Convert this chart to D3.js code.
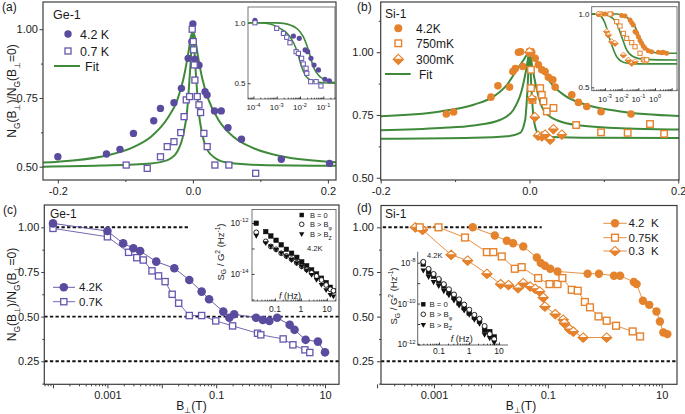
<!DOCTYPE html>
<html><head><meta charset="utf-8">
<script src="https://cdn.jsdelivr.net/npm/d3@7"></script>
<style>
html,body{margin:0;padding:0;background:#fff;}
svg text{font-family:'Liberation Sans',Arial,Helvetica,sans-serif;white-space:pre;}
</style></head><body>
<script>
// ================= DATA =================
// (a) Ge-1 : N_G(B)/N_G(0) vs B (T)
const a_4K2 = [[-0.2,0.536],[-0.128,0.546],[-0.108,0.563],[-0.088,0.621],[-0.058,0.667],[-0.048,0.712],[-0.028,0.733],[-0.017,0.785],[-0.007,0.894],[-0.0015,0.955],[0,1.019],[0.003,0.891],[0.009,0.869],[0.018,0.773],[0.021,0.761],[0.032,0.703],[0.042,0.703],[0.052,0.642],[0.072,0.60],[0.131,0.527],[0.2025,0.512]];
const a_0K7 = [[-0.0988,0.506],[-0.0676,0.494],[-0.048,0.536],[-0.038,0.573],[-0.028,0.591],[-0.018,0.624],[-0.013,0.682],[-0.0098,0.743],[-0.0049,0.755],[-0.001,1.0],[0.0005,0.955],[0.001,0.925],[0.002,0.87],[0.003,0.815],[0.0065,0.755],[0.009,0.725],[0.0114,0.697],[0.0163,0.621],[0.0212,0.573],[0.0326,0.506],[0.0533,0.506],[0.093,0.476]];
const a_fit4K2 = [[-0.222,0.515],[-0.2,0.518],[-0.137,0.536],[-0.0864,0.573],[-0.062,0.609],[-0.0375,0.676],[-0.023,0.743],[-0.0138,0.822],[-0.006,0.925],[-0.003,0.972],[0,0.99],[0.003,0.972],[0.006,0.925],[0.0138,0.822],[0.023,0.745],[0.0375,0.672],[0.062,0.605],[0.09,0.567],[0.137,0.535],[0.2,0.518],[0.212,0.516]];
const a_fit0K7 = [[-0.222,0.5],[-0.137,0.504],[-0.062,0.512],[-0.0375,0.524],[-0.023,0.555],[-0.0138,0.621],[-0.0084,0.706],[-0.0044,0.84],[-0.0015,0.95],[0,0.985],[0.0015,0.95],[0.0044,0.84],[0.0084,0.706],[0.0138,0.62],[0.021,0.563],[0.0375,0.525],[0.053,0.514],[0.1,0.506],[0.212,0.503]];
// inset (a): log B
const ia_4K2 = [[1.17e-4,1.02],[1.95e-3,0.912],[5.2e-3,0.89],[9.3e-3,0.871],[0.0166,0.775],[0.0214,0.761],[0.0295,0.706],[0.04,0.651],[0.0617,0.61],[0.117,0.533],[0.182,0.52]];
const ia_0K7 = [[1.17e-4,1.0],[1e-3,0.954],[1.95e-3,0.912],[2.7e-3,0.88],[3.7e-3,0.835],[6.8e-3,0.761],[8.5e-3,0.747],[0.0117,0.706],[0.0138,0.659],[0.0182,0.624],[0.0195,0.582],[0.0288,0.513],[0.049,0.513],[0.079,0.478]];
const ia_fit4K2 = [[5.9e-5,1.0],[1e-3,0.999],[1.95e-3,0.995],[7.2e-3,0.954],[0.0138,0.885],[0.0229,0.775],[0.037,0.637],[0.072,0.554],[0.195,0.513],[0.316,0.505]];
const ia_fit0K7 = [[5.9e-5,1.0],[2e-4,0.999],[5.2e-4,0.99],[1.38e-3,0.954],[3.7e-3,0.885],[7.2e-3,0.775],[0.0117,0.637],[0.0195,0.55],[0.0437,0.513],[0.316,0.5]];

// (b) Si-1
const b_4K2 = [[-0.1118,0.754],[-0.102,0.762],[-0.0518,0.821],[-0.0424,0.866],[-0.0268,0.861],[-0.0223,0.923],[-0.019,0.935],[-0.0148,1.0],[-0.012,1.002],[-0.009,0.943],[0.003,1.0],[0.0077,0.976],[0.012,0.95],[0.0166,0.93],[0.021,0.923],[0.0255,0.90],[0.0314,0.89],[0.0345,0.861],[0.0569,0.83],[0.0658,0.80],[0.077,0.784],[0.0962,0.763],[0.1365,0.754]];
const b_750 = [[0.001,1.0],[0.002,0.93],[0.002,0.857],[0.004,0.81],[0.0144,0.857],[0.0166,0.83],[0.0188,0.804],[0.0233,0.764],[0.0322,0.778],[0.0627,0.71],[0.0962,0.681],[0.132,0.679],[0.162,0.714],[0.181,0.675]];
const b_300 = [[0,1.0],[0.0032,0.815],[0.0072,0.742],[0.0115,0.668],[0.0166,0.665],[0.021,0.672],[0.0278,0.652],[0.0322,0.694],[0.0435,0.672]];
const b_fit4K2 = [[-0.2,0.745],[-0.12,0.764],[-0.075,0.791],[-0.048,0.824],[-0.0303,0.87],[-0.0169,0.93],[-0.008,0.969],[0,1.0],[0.008,0.969],[0.0169,0.93],[0.0303,0.872],[0.048,0.826],[0.075,0.792],[0.12,0.765],[0.201,0.746]];
const b_fit750 = [[-0.2,0.689],[-0.12,0.698],[-0.075,0.708],[-0.039,0.731],[-0.0215,0.771],[-0.0102,0.85],[-0.0044,0.93],[0,1.0],[0.0044,0.93],[0.0099,0.85],[0.0188,0.77],[0.0368,0.729],[0.068,0.708],[0.135,0.696],[0.201,0.692]];
const b_fit300 = [[-0.2,0.655],[-0.075,0.659],[-0.0303,0.665],[-0.0125,0.679],[-0.0058,0.731],[-0.0027,0.85],[0,1.0],[0.0027,0.85],[0.0058,0.731],[0.012,0.675],[0.0278,0.662],[0.09,0.659],[0.201,0.658]];
// inset (b)
const ib_4K2 = [[3.98e-4,1.0],[6.3e-4,1.0],[1e-3,1.0],[2.5e-3,1.0],[0.01,0.99],[0.0158,0.986],[0.0316,0.96],[0.04,0.94],[0.05,0.925],[0.063,0.88],[0.079,0.87],[0.1,0.845],[0.126,0.82],[0.158,0.8],[0.2,0.78],[0.25,0.766],[0.4,0.75],[0.63,0.743],[1.58,0.74],[2.5,0.736],[3.16,0.74],[5.0,0.732]];
const ib_750 = [[5e-4,1.0],[2e-3,1.0],[5e-3,0.948],[7.9e-3,0.918],[0.0126,0.868],[0.02,0.834],[0.04,0.805],[0.063,0.777],[0.126,0.732],[0.2,0.69],[0.25,0.68],[0.316,0.688]];
const ib_300 = [[3.98e-4,1.0],[1.26e-3,0.88],[1.58e-3,0.857],[2.5e-3,0.811],[4e-3,0.8],[0.0126,0.72],[0.025,0.686],[0.04,0.664],[0.063,0.675]];
const ib_fit4K2 = [[1.58e-4,1.0],[5e-3,1.0],[0.0126,0.99],[0.025,0.97],[0.063,0.914],[0.126,0.834],[0.25,0.777],[0.63,0.743],[2.0,0.734],[20.9,0.732]];
const ib_fit750 = [[1.58e-4,1.0],[7.9e-4,0.998],[1.58e-3,0.99],[5e-3,0.937],[0.01,0.845],[0.02,0.755],[0.05,0.709],[0.25,0.691],[20.9,0.686]];
const ib_fit300 = [[1.58e-4,1.0],[3.16e-4,0.998],[5e-4,0.99],[1e-3,0.937],[2e-3,0.823],[5e-3,0.709],[0.0158,0.668],[0.1,0.66],[20.9,0.66]];

// (c) Ge-1 log B
const c_4K2 = [[1e-4,1.022],[0.001,0.979],[0.00195,0.91],[0.0030,0.883],[0.0040,0.867],[0.0079,0.808],[0.017,0.771],[0.032,0.705],[0.054,0.64],[0.074,0.597],[0.135,0.528],[0.174,0.494],[0.214,0.513],[0.54,0.494],[0.72,0.481],[0.95,0.476],[1.32,0.494],[2.24,0.454],[2.75,0.426],[4.4,0.37],[7.4,0.36],[10,0.30]];
const c_0K7 = [[1e-4,0.994],[0.001,0.947],[0.00245,0.86],[0.00347,0.83],[0.00457,0.817],[0.0066,0.756],[0.0087,0.728],[0.0115,0.696],[0.0155,0.625],[0.0204,0.575],[0.032,0.506],[0.054,0.506],[0.098,0.476],[0.2,0.448],[0.575,0.407],[0.66,0.398],[1.7,0.375],[2.57,0.342],[4.27,0.314],[5.25,0.299]];
const c_refs = [{v:1.0,from:8.9e-5,to:0.031},{v:0.5},{v:0.25}];
// inset (c): S_G/G^2 vs f at 4.2K
const ic_f = [0.019,0.044,0.069,0.11,0.174,0.275,0.436,0.69,1.07,1.66,2.57,3.98,6.17,9.33,13.5,17.8];
const ic_B0 = [9.8e-13,4.6e-13,3.1e-13,2.1e-13,1.4e-13,9.3e-14,6.5e-14,4.5e-14,3.0e-14,2.1e-14,1.45e-14,1.0e-14,6.8e-15,4.6e-15,3.0e-15,2.2e-15];
const ic_Bphi = [4.3e-13,1.9e-13,1.2e-13,9.3e-14,6.5e-14,5.1e-14,3.8e-14,2.75e-14,2.0e-14,1.5e-14,1.1e-14,8.3e-15,5.8e-15,3.7e-15,2.5e-15,2.2e-15];
const ic_BZ = [3.1e-13,1.6e-13,1.2e-13,8.7e-14,6.5e-14,4.8e-14,3.5e-14,2.6e-14,1.95e-14,1.35e-14,9.1e-15,5.8e-15,3.7e-15,2.3e-15,1.5e-15,1.3e-15];

// (d) Si-1 log B
const d_4K2 = [[0.0048,1.0],[0.0117,0.954],[0.019,0.925],[0.0245,0.911],[0.037,0.893],[0.064,0.831],[0.075,0.80],[0.089,0.785],[0.11,0.768],[0.148,0.753],[0.50,0.74],[0.79,0.74],[1.45,0.729],[1.86,0.729],[3.24,0.694],[3.63,0.682],[4.68,0.589],[6.03,0.566],[8.1,0.529],[9.3,0.473],[10.7,0.411],[12.6,0.402]];
const d_0K75 = [[0.00056,1.0],[0.0012,1.0],[0.0035,0.943],[0.0085,0.861],[0.011,0.861],[0.0155,0.837],[0.0263,0.768],[0.0347,0.777],[0.0676,0.716],[0.107,0.682],[0.148,0.682],[0.18,0.716],[0.263,0.65],[0.335,0.645],[0.447,0.582],[0.55,0.552],[0.776,0.501],[1.08,0.477],[1.58,0.449],[3.09,0.417],[4.17,0.389]];
const d_0K3 = [[0.00047,1.0],[0.00063,0.986],[0.002,0.846],[0.0039,0.814],[0.0085,0.74],[0.0148,0.682],[0.0204,0.677],[0.030,0.66],[0.037,0.688],[0.049,0.669],[0.060,0.656],[0.072,0.641],[0.083,0.607],[0.089,0.557],[0.135,0.514],[0.186,0.483],[0.195,0.464],[0.24,0.43],[0.28,0.416],[0.417,0.383],[1.08,0.383]];
const d_refs = [{v:1.0,from:1.26e-4,to:0.078},{v:0.25}];
// inset (d)
const id_f = [0.030,0.045,0.066,0.098,0.145,0.214,0.316,0.468,0.692,1.02,1.51,2.24,3.31,4.9,6.92];
const id_B0 = [8.7e-9,3.5e-9,2.2e-9,1.26e-9,7.1e-10,3.5e-10,2.1e-10,1.1e-10,6.3e-11,3.5e-11,2.2e-11,1.4e-11,5.0e-12,4.2e-12,2.3e-12];
const id_Bphi = [1.1e-8,5.0e-9,2.8e-9,1.6e-9,8.9e-10,5.0e-10,2.8e-10,1.6e-10,8.9e-11,5.0e-11,2.8e-11,1.8e-11,7.9e-12,3.2e-12,1.8e-12];
const id_BZ = [4.1e-9,2.0e-9,1.1e-9,7.1e-10,4.0e-10,2.5e-10,1.4e-10,7.9e-11,4.5e-11,2.8e-11,1.6e-11,1.0e-11,2.9e-12,2.0e-12,1.2e-12];

// tick values
const linTicksA = {x:[-0.2,0,0.2], xm:[-0.1,0.1], y:[0.5,0.75,1.0], ym:[0.625,0.875]};
const linTicksB = {x:[-0.2,0,0.2], xm:[-0.1,0.1], y:[0.5,0.75,1.0], ym:[0.625,0.875,1.125]};
const yTicksCD = [0.25,0.5,0.75,1.0], yTicksCDm = [0.125,0.375,0.625,0.875];
const logMajorCD = [1e-4,1e-3,1e-2,0.1,1,10];
const logLabelsCD = {"0.001":"0.001","0.1":"0.1","10":"10"};

// ================= DRAWING =================
const PURPLE="#5b4b9e", PURPLE_S="#6656ad", GREEN="#3e8a3a", ORANGE="#e5822c", FRAME="#3c3c3c", INK="#1a1a1a";
const svg = d3.select("body").append("svg").attr("width",685).attr("height",414).style("display","block");

function rich(g, x, y, parts, size, anchor, rotate, fill){
  const t = g.append("text").attr("font-size",size).attr("text-anchor",anchor||"start").attr("fill",fill||INK);
  if (rotate) t.attr("transform",`translate(${x},${y}) rotate(${rotate})`); else t.attr("x",x).attr("y",y);
  let shift=0;
  parts.forEach(p=>{
    const [s,k] = typeof p==="string" ? [p,"n"] : p;
    const ts = t.append("tspan").text(s);
    const target = k==="sub" ? size*0.3 : (k==="sup" ? -size*0.42 : 0);
    ts.attr("dy", target-shift); shift=target;
    if (k==="sub"||k==="sup") ts.attr("font-size", size*0.7);
    if (k==="i") ts.attr("font-style","italic");
  });
  return t;
}
function ax(gen, tr, vals, size, pad, fmt, fs){
  const g = svg.append("g").attr("transform",tr);
  g.call(gen.tickValues(vals).tickSize(size).tickSizeOuter(0).tickPadding(pad).tickFormat(fmt||(()=>"")));
  g.attr("font-family",null).attr("font-size",fs||11);
  g.select(".domain").remove();
  g.selectAll(".tick line").attr("stroke",FRAME).attr("stroke-width",1);
  g.selectAll(".tick text").attr("fill",INK);
  return g;
}
function frame(x0,y0,x1,y1,sw,col,fill){
  svg.append("rect").attr("x",x0).attr("y",y0).attr("width",x1-x0).attr("height",y1-y0)
    .attr("fill",fill||"none").attr("stroke",col||FRAME).attr("stroke-width",sw||1.2);
}
function clip(id,x0,y0,x1,y1){
  svg.append("clipPath").attr("id",id).append("rect").attr("x",x0).attr("y",y0).attr("width",x1-x0).attr("height",y1-y0);
  return svg.append("g").attr("clip-path",`url(#${id})`);
}
function pathLine(g,data,x,y,col,w,curve,dash){
  g.append("path").datum(data).attr("d",d3.line().x(d=>x(d[0])).y(d=>y(d[1])).curve(curve||d3.curveLinear))
    .attr("fill","none").attr("stroke",col).attr("stroke-width",w).attr("stroke-dasharray",dash||null);
}
function circles(g,data,x,y,r,fill,stroke,sw){
  g.selectAll(null).data(data).join("circle").attr("cx",d=>x(d[0])).attr("cy",d=>y(d[1])).attr("r",r)
    .attr("fill",fill).attr("stroke",stroke||"none").attr("stroke-width",sw||1);
}
function squares(g,data,x,y,s,stroke,fill,sw){
  g.selectAll(null).data(data).join("rect").attr("x",d=>x(d[0])-s/2).attr("y",d=>y(d[1])-s/2).attr("width",s).attr("height",s)
    .attr("fill",fill||"#fff").attr("stroke",stroke).attr("stroke-width",sw||1.2);
}
function halfDiamonds(g,data,x,y,w,h,col,sw){
  const sel = g.selectAll(null).data(data).join("g").attr("transform",d=>`translate(${x(d[0])},${y(d[1])})`);
  sel.append("path").attr("d",`M0,${-h}L${w},0L0,${h}L${-w},0Z`).attr("fill","#fff").attr("stroke",col).attr("stroke-width",sw||1.1);
  sel.append("path").attr("d",`M${-w},0L${w},0L0,${h}Z`).attr("fill",col).attr("stroke",col).attr("stroke-width",sw||1.1).attr("stroke-linejoin","round");
}
function triangles(g,data,x,y,s,col){
  g.selectAll(null).data(data).join("path").attr("transform",d=>`translate(${x(d[0])},${y(d[1])})`)
    .attr("d",`M${-s},${-s*0.75}L${s},${-s*0.75}L0,${s}Z`).attr("fill",col);
}
function minorLog(dom){
  const out=[]; for(let e=-6;e<=2;e++) for(let k=2;k<=9;k++){const v=k*Math.pow(10,e); if(v>=dom[0]&&v<=dom[1]) out.push(v);} return out;
}
function expLabelX(g,scale,vals,y,fs){ vals.forEach(v=>rich(g,scale(v),y,["10",["-"+Math.round(-Math.log10(v)),"sup"]],fs,"middle")); }
function expLabelY(g,scale,vals,x,fs){ vals.forEach(v=>rich(g,x,scale(v)+fs*0.35,["10",["-"+Math.round(-Math.log10(v)),"sup"]],fs,"end")); }
const nyLabel = [["N"],["G","sub"],["(B"],["\u22a5","sub"],[")/N"],["G","sub"],["(B"],["\u22a5","sub"],["=0)"]].map(p=>p.length===1?p[0]:p);
const sgLabel = ["S",["G","sub"]," / G",["2","sup"]," (Hz",["-1","sup"],")"];

// ---------- Panel (a) ----------
const xA = d3.scaleLinear().domain([-0.222,0.212]).range([43,336]);
const yA = d3.scaleLinear().domain([0.4516,1.099]).range([180,2]);
ax(d3.axisBottom(xA),"translate(0,180)",linTicksA.x,3.5,4,d=>d.toFixed(1),11);
ax(d3.axisBottom(xA),"translate(0,180)",linTicksA.xm,2,0);
ax(d3.axisLeft(yA),"translate(43,0)",linTicksA.y,3.5,1.5,d=>d.toFixed(2),11);
ax(d3.axisLeft(yA),"translate(43,0)",linTicksA.ym,2,0);
const gA = clip("clipA",43,2,336,180);
pathLine(gA,a_fit4K2,xA,yA,GREEN,2,d3.curveMonotoneX);
pathLine(gA,a_fit0K7,xA,yA,GREEN,2,d3.curveMonotoneX);
circles(gA,a_4K2,xA,yA,3.7,PURPLE);
squares(gA,a_0K7,xA,yA,6,PURPLE_S,"#fff",1.3);
frame(43,2,336,180);
rich(svg,2,11,["(a)"],12);
rich(svg,53,19,["Ge-1"],12.5);
svg.append("circle").attr("cx",68).attr("cy",34).attr("r",3.7).attr("fill",PURPLE);
rich(svg,80,38.5,["4.2 K"],12.5);
svg.append("rect").attr("x",65).attr("y",48).attr("width",6).attr("height",6).attr("fill","#fff").attr("stroke",PURPLE_S).attr("stroke-width",1.3);
rich(svg,80,55.5,["0.7 K"],12.5);
svg.append("line").attr("x1",54).attr("x2",80).attr("y1",66).attr("y2",66).attr("stroke",GREEN).attr("stroke-width",2);
rich(svg,85,70.5,["Fit"],12.5);
rich(svg,16,91,nyLabel,12,"middle",-90);

// inset (a)
const xIa = d3.scaleLog().domain([Math.pow(10,-4.23),Math.pow(10,-0.5)]).range([248,335]);
const yIa = d3.scaleLinear().domain([0.37,1.13]).range([99,7]);
frame(248,7,335,99,0.9,"#666","#fff");
ax(d3.axisBottom(xIa),"translate(0,99)",[1e-4,1e-3,1e-2,1e-1],-2.5,0);
ax(d3.axisBottom(xIa),"translate(0,99)",minorLog(xIa.domain()),-1.3,0);
ax(d3.axisLeft(yIa),"translate(248,0)",[0.5,1.0],-2.5,0);
expLabelX(svg,xIa,[1e-4,1e-3,1e-2,1e-1],110,8);
rich(svg,245.5,25.5,["1.0"],8,"end"); rich(svg,245.5,86,["0.5"],8,"end");
const gIa = clip("clipIa",248,7,335,99);
pathLine(gIa,ia_fit4K2,xIa,yIa,GREEN,1.6,d3.curveMonotoneX);
pathLine(gIa,ia_fit0K7,xIa,yIa,GREEN,1.6,d3.curveMonotoneX);
circles(gIa,ia_4K2,xIa,yIa,2.6,PURPLE);
squares(gIa,ia_0K7,xIa,yIa,4.2,PURPLE_S,"#fff",1);

// ---------- Panel (b) ----------
const xB = d3.scaleLinear().domain([-0.2,0.201]).range([380.7,679]);
const yB = d3.scaleLinear().domain([0.491,1.2]).range([180,2]);
ax(d3.axisBottom(xB),"translate(0,180)",linTicksB.x,3.5,4,d=>d.toFixed(1),11);
ax(d3.axisBottom(xB),"translate(0,180)",linTicksB.xm,2,0);
ax(d3.axisLeft(yB),"translate(380.7,0)",linTicksB.y,4,3,d=>d.toFixed(2),11);
ax(d3.axisLeft(yB),"translate(380.7,0)",linTicksB.ym,2,0);
const gB = clip("clipB",380.7,2,679,180);
pathLine(gB,b_fit4K2,xB,yB,GREEN,2,d3.curveMonotoneX);
pathLine(gB,b_fit750,xB,yB,GREEN,2,d3.curveMonotoneX);
pathLine(gB,b_fit300,xB,yB,GREEN,2,d3.curveMonotoneX);
circles(gB,b_4K2,xB,yB,3.8,ORANGE);
squares(gB,b_750,xB,yB,6.5,ORANGE,"#fff",1.4);
halfDiamonds(gB,b_300,xB,yB,4.6,4.6,ORANGE,1.1);
frame(380.7,2,679,180);
rich(svg,357,11,["(b)"],12);
rich(svg,385,17.5,["Si-1"],12);
svg.append("circle").attr("cx",398.3).attr("cy",28.3).attr("r",4).attr("fill",ORANGE);
rich(svg,416,32.5,["4.2K"],12);
svg.append("rect").attr("x",395).attr("y",40).attr("width",6.6).attr("height",6.6).attr("fill","#fff").attr("stroke",ORANGE).attr("stroke-width",1.4);
rich(svg,416,47.5,["750mK"],12);
halfDiamonds(svg,[[0,0]],()=>398.3,()=>59.3,5,5,ORANGE,1.1);
rich(svg,416,63.5,["300mK"],12);
svg.append("line").attr("x1",385).attr("x2",410.7).attr("y1",74).attr("y2",74).attr("stroke",GREEN).attr("stroke-width",2);
rich(svg,419,78.5,["Fit"],12);

// inset (b)
const xIb = d3.scaleLog().domain([Math.pow(10,-3.8),Math.pow(10,1.32)]).range([591.7,677]);
const yIb = d3.scaleLinear().domain([0.477,1.05]).range([90.7,6.7]);
frame(591.7,6.7,677,90.7,0.9,"#666","#fff");
ax(d3.axisBottom(xIb),"translate(0,90.7)",[1e-3,1e-2,1e-1,1,10],-2.5,0);
ax(d3.axisBottom(xIb),"translate(0,90.7)",minorLog(xIb.domain()),-1.3,0);
ax(d3.axisLeft(yIb),"translate(591.7,0)",[0.5,1.0],-2.5,0);
expLabelX(svg,xIb,[1e-3,1e-2,1e-1],101.5,8);
rich(svg,xIb(1),101.5,["10",["0","sup"]],8,"middle");
rich(svg,589.5,16.8,["1.0"],8,"end"); rich(svg,589.5,90,["0.5"],8,"end");
const gIb = clip("clipIb",591.7,6.7,677,90.7);
pathLine(gIb,ib_fit4K2,xIb,yIb,GREEN,1.6,d3.curveMonotoneX);
pathLine(gIb,ib_fit750,xIb,yIb,GREEN,1.6,d3.curveMonotoneX);
pathLine(gIb,ib_fit300,xIb,yIb,GREEN,1.6,d3.curveMonotoneX);
circles(gIb,ib_4K2,xIb,yIb,2.5,ORANGE);
squares(gIb,ib_750,xIb,yIb,4.2,ORANGE,"#fff",1);
halfDiamonds(gIb,ib_300,xIb,yIb,3,3,ORANGE,0.9);

// ---------- Panel (c) ----------
const xC = d3.scaleLog().domain([Math.pow(10,-4.16),Math.pow(10,1.257)]).range([44.3,339]);
const yC = d3.scaleLinear().domain([0.121,1.125]).range([384.3,205]);
ax(d3.axisBottom(xC),"translate(0,384.3)",logMajorCD,4,3,d=>logLabelsCD[String(d)]||"",11);
ax(d3.axisBottom(xC),"translate(0,384.3)",minorLog(xC.domain()),2,0);
ax(d3.axisLeft(yC),"translate(44.3,0)",yTicksCD,3,2,d=>d.toFixed(2),11);
ax(d3.axisLeft(yC),"translate(44.3,0)",yTicksCDm,2,0);
const gC = clip("clipC",44.3,205,339,384.3);
c_refs.forEach(r=>gC.append("line").attr("x1",r.from?xC(r.from):44.3).attr("x2",r.to?xC(r.to):339).attr("y1",yC(r.v)).attr("y2",yC(r.v))
  .attr("stroke","#111").attr("stroke-width",1.9).attr("stroke-dasharray","3.3,2.3"));
pathLine(gC,c_0K7,xC,yC,PURPLE_S,0.9);
pathLine(gC,c_4K2,xC,yC,PURPLE,0.9);
squares(gC,c_0K7,xC,yC,6.2,PURPLE_S,"#fff",1.3);
circles(gC,c_4K2,xC,yC,4.3,PURPLE);
frame(44.3,205,339,384.3);
rich(svg,3,214,["(c)"],12);
rich(svg,50,217.5,["Ge-1"],12);
svg.append("line").attr("x1",53).attr("x2",75).attr("y1",287.3).attr("y2",287.3).attr("stroke",PURPLE).attr("stroke-width",0.9);
svg.append("circle").attr("cx",63.8).attr("cy",287.3).attr("r",4.3).attr("fill",PURPLE);
rich(svg,79,291.3,["4.2K"],11.5);
svg.append("line").attr("x1",53).attr("x2",75).attr("y1",301.7).attr("y2",301.7).attr("stroke",PURPLE_S).attr("stroke-width",0.9);
svg.append("rect").attr("x",60.7).attr("y",298.6).attr("width",6.2).attr("height",6.2).attr("fill","#fff").attr("stroke",PURPLE_S).attr("stroke-width",1.3);
rich(svg,79,305.7,["0.7K"],11.5);
rich(svg,16,294.5,nyLabel,12,"middle",-90);
rich(svg,191.5,409.5,["B",["\u22a5","sub"],"(T)"],12,"middle");

// inset (c)
const xIc = d3.scaleLog().domain([Math.pow(10,-1.885),Math.pow(10,1.35)]).range([252,336]);
const yIc = d3.scaleLog().domain([Math.pow(10,-15.06),Math.pow(10,-11.47)]).range([301,209.5]);
frame(252,209.5,336,301,0.9,"#666","#fff");
ax(d3.axisBottom(xIc),"translate(0,301)",[0.1,1,10],-2.5,0);
ax(d3.axisBottom(xIc),"translate(0,301)",minorLog(xIc.domain()),-1.3,0);
ax(d3.axisLeft(yIc),"translate(252,0)",[1e-15,1e-14,1e-13,1e-12],-2.5,0);
[0.1,1,10].forEach(v=>rich(svg,xIc(v),311.5,[String(v)],8.5,"middle"));
expLabelY(svg,yIc,[1e-12,1e-14],248.5,8.5);
rich(svg,223.5,252,sgLabel,9.5,"middle",-90);
const icB0 = ic_f.map((f,i)=>[f,ic_B0[i]]), icBp = ic_f.map((f,i)=>[f,ic_Bphi[i]]), icBZ = ic_f.map((f,i)=>[f,ic_BZ[i]]);
const gIc = clip("clipIc",252,209.5,336,301);
squares(gIc,icB0,xIc,yIc,4.6,"#111","#111",0.5);
circles(gIc,icBp,xIc,yIc,2.4,"#fff","#111",0.9);
triangles(gIc,icBZ,xIc,yIc,2.8,"#111");
svg.append("rect").attr("x",299.5).attr("y",212.8).attr("width",4.4).attr("height",4.4).attr("fill","#111");
rich(svg,310,218,["B = 0"],7.5);
svg.append("circle").attr("cx",301.7).attr("cy",224.3).attr("r",2.3).attr("fill","#fff").attr("stroke","#111").attr("stroke-width",0.9);
rich(svg,310,227.3,["B > B",["\u03c6","sub"]],7.5);
triangles(svg,[[0,0]],()=>301.7,()=>234.3,2.7,"#111");
rich(svg,310,237.3,["B > B",["Z","sub"]],7.5);
rich(svg,307,251,["4.2K"],7.5);
rich(svg,290,298.5,[["f","i"]," (Hz)"],9,"middle");

// ---------- Panel (d) ----------
const xD = d3.scaleLog().domain([Math.pow(10,-3.931),Math.pow(10,1.269)]).range([381,677]);
const yD = d3.scaleLinear().domain([0.121,1.125]).range([384.3,205]);
ax(d3.axisBottom(xD),"translate(0,384.3)",logMajorCD,4,3,d=>logLabelsCD[String(d)]||"",11);
ax(d3.axisBottom(xD),"translate(0,384.3)",minorLog(xD.domain()),2,0);
ax(d3.axisLeft(yD),"translate(381,0)",yTicksCD,4,3,d=>d.toFixed(2),11);
ax(d3.axisLeft(yD),"translate(381,0)",yTicksCDm,2,0);
const gD = clip("clipD",381,205.5,677,384.3);
d_refs.forEach(r=>gD.append("line").attr("x1",r.from?xD(r.from):381).attr("x2",r.to?xD(r.to):677).attr("y1",yD(r.v)).attr("y2",yD(r.v))
  .attr("stroke","#111").attr("stroke-width",1.9).attr("stroke-dasharray","3.3,2.3"));

// inset (d) (transparent, L-shaped axes)
const xId = d3.scaleLog().domain([Math.pow(10,-1.71),Math.pow(10,1.3)]).range([417.7,508]);
const yId = d3.scaleLog().domain([Math.pow(10,-12.03),Math.pow(10,-7.46)]).range([345,251.7]);
svg.append("line").attr("x1",417.7).attr("x2",417.7).attr("y1",251.7).attr("y2",345).attr("stroke","#555").attr("stroke-width",0.9);
svg.append("line").attr("x1",417.7).attr("x2",508).attr("y1",345).attr("y2",345).attr("stroke","#555").attr("stroke-width",0.9);
ax(d3.axisBottom(xId),"translate(0,345)",[0.1,1,10],-2.5,0);
ax(d3.axisBottom(xId),"translate(0,345)",minorLog(xId.domain()),-1.3,0);
ax(d3.axisLeft(yId),"translate(417.7,0)",[1e-12,1e-11,1e-10,1e-9,1e-8],-2.5,0);
[0.1,1,10].forEach(v=>rich(svg,xId(v),354,[String(v)],8.5,"middle"));
expLabelY(svg,yId,[1e-8,1e-10,1e-12],415.5,8.5);
rich(svg,397,296,sgLabel,9.5,"middle",-90);
const idB0 = id_f.map((f,i)=>[f,id_B0[i]]), idBp = id_f.map((f,i)=>[f,id_Bphi[i]]), idBZ = id_f.map((f,i)=>[f,id_BZ[i]]);
squares(svg,idB0,xId,yId,4.8,"#111","#111",0.5);
circles(svg,idBp,xId,yId,2.5,"#fff","#111",0.9);
triangles(svg,idBZ,xId,yId,2.9,"#111");
svg.append("rect").attr("x",421.1).attr("y",302.1).attr("width",4.4).attr("height",4.4).attr("fill","#111");
rich(svg,429.5,307.3,["B = 0"],7.8);
svg.append("circle").attr("cx",423.3).attr("cy",314.3).attr("r",2.3).attr("fill","#fff").attr("stroke","#111").attr("stroke-width",0.9);
rich(svg,429.5,317.3,["B > B",["\u03c6","sub"]],7.8);
triangles(svg,[[0,0]],()=>423.3,()=>325,2.7,"#111");
rich(svg,429.5,328,["B > B",["Z","sub"]],7.8);
rich(svg,427,258,["4.2K"],7.5);
rich(svg,461.7,341.5,[["f","i"]," (Hz)"],9,"middle");

// main data (d)
pathLine(gD,d_0K3,xD,yD,ORANGE,0.9);
pathLine(gD,d_0K75,xD,yD,ORANGE,0.9);
pathLine(gD,d_4K2,xD,yD,ORANGE,0.9);
halfDiamonds(gD,d_0K3,xD,yD,5,4.6,ORANGE,1.1);
squares(gD,d_0K75,xD,yD,6.8,ORANGE,"#fff",1.4);
circles(gD,d_4K2,xD,yD,4.2,ORANGE);
frame(381,205.5,677,384.3);
rich(svg,357,212,["(d)"],12);
rich(svg,385,218,["Si-1"],12);
[[223.3,"4.2  K","c"],[237.7,"0.75K","s"],[251,"0.3  K","d"]].forEach(([yy,lab,k])=>{
  svg.append("line").attr("x1",603.3).attr("x2",626.7).attr("y1",yy).attr("y2",yy).attr("stroke",ORANGE).attr("stroke-width",0.9);
  if(k==="c") svg.append("circle").attr("cx",615).attr("cy",yy).attr("r",4.2).attr("fill",ORANGE);
  if(k==="s") svg.append("rect").attr("x",611.6).attr("y",yy-3.4).attr("width",6.8).attr("height",6.8).attr("fill","#fff").attr("stroke",ORANGE).attr("stroke-width",1.4);
  if(k==="d") halfDiamonds(svg,[[0,0]],()=>615,()=>yy,5,4.6,ORANGE,1.1);
  rich(svg,628.5,yy+4,[lab],11.5);
});
rich(svg,521,409.5,["B",["\u22a5","sub"],"(T)"],12,"middle");
</script>
</body></html>
